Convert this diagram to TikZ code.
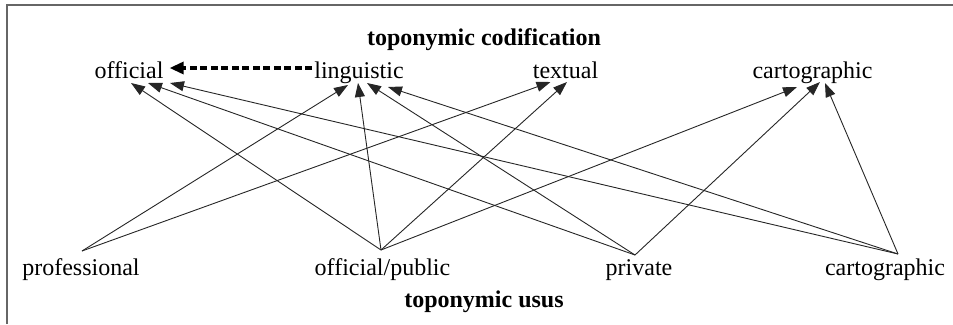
\documentclass[tikz,border=0pt]{standalone}
\usepackage{fontspec}
\setmainfont{Liberation Serif}
\usetikzlibrary{arrows.meta}
\begin{document}
\begin{tikzpicture}[x=1pt,y=-1pt,
  lbl/.style={inner sep=0pt, anchor=base, font=\fontsize{24}{28}\selectfont},
  ttl/.style={inner sep=0pt, anchor=base, font=\fontsize{24}{28}\selectfont\bfseries},
  link/.style={draw=black!85, line width=0.9pt, -{Triangle[length=14pt,width=10pt]}},
  dashlink/.style={draw=black, line width=3.2pt, dash pattern=on 7pt off 3.5pt, -{Triangle[length=14pt,width=12pt]}}]
\useasboundingbox (0,0) rectangle (953,324);
\draw[gray!80!black, line width=2pt] (7,324) -- (7,5) -- (953,5);

\node[ttl] (codif) at (484,45) {toponymic codification};
\node[lbl] (off) at (129,78) {official};
\node[lbl] (lin) at (359,78) {linguistic};
\node[lbl] (tex) at (565.5,78) {textual};
\node[lbl] (cartT) at (812.5,78) {cartographic};
\node[lbl] (prof) at (81,275) {professional};
\node[lbl] (pub) at (382.5,275) {official/public};
\node[lbl] (priv) at (639,275) {private};
\node[lbl] (cartB) at (885,275) {cartographic};
\node[ttl] (usus) at (484,307) {toponymic usus};

\draw[dashlink] ([xshift=-2pt,yshift=10pt]lin.base west) -- ([xshift=6pt,yshift=10pt]off.base east);

% to official
\draw[link] ([xshift=-1.5pt,yshift=25pt]pub.base) -- ([xshift=2pt,yshift=-5pt]off.base);
\draw[link] ([xshift=-4pt,yshift=20pt]priv.base) -- ([xshift=19pt,yshift=-5pt]off.base);
\draw[link] ([xshift=13pt,yshift=21pt]cartB.base) -- ([xshift=41pt,yshift=-5pt]off.base);
% to linguistic
\draw[link] ([xshift=1pt,yshift=24pt]prof.base) -- ([xshift=-11pt,yshift=-7pt]lin.base);
\draw[link] ([xshift=-1.5pt,yshift=25pt]pub.base) -- ([xshift=-1pt,yshift=-5pt]lin.base);
\draw[link] ([xshift=-4pt,yshift=20pt]priv.base) -- ([xshift=8pt,yshift=-5pt]lin.base);
\draw[link] ([xshift=13pt,yshift=21pt]cartB.base) -- ([xshift=29pt,yshift=-9pt]lin.base);
% to textual
\draw[link] ([xshift=1pt,yshift=24pt]prof.base) -- ([xshift=-15pt,yshift=-4pt]tex.base);
\draw[link] ([xshift=-1.5pt,yshift=25pt]pub.base) -- ([xshift=1.5pt,yshift=-4pt]tex.base);
% to cartographic
\draw[link] ([xshift=-1.5pt,yshift=25pt]pub.base) -- ([xshift=-15.5pt,yshift=-9pt]cartT.base);
\draw[link] ([xshift=-4pt,yshift=20pt]priv.base) -- ([xshift=7.5pt,yshift=-4pt]cartT.base);
\draw[link] ([xshift=13pt,yshift=21pt]cartB.base) -- ([xshift=12.5pt,yshift=-5pt]cartT.base);
\end{tikzpicture}
\end{document}
